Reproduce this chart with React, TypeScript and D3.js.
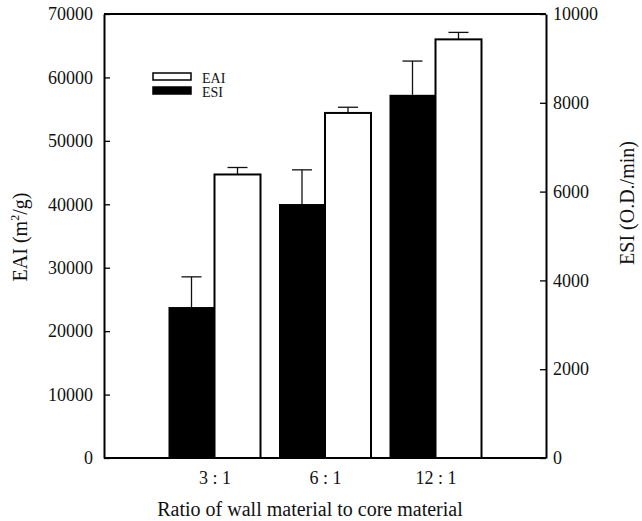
import React, { useEffect, useRef } from "react";
import * as d3 from "d3";

const categories = ["3 : 1", "6 : 1", "12 : 1"];
const eaiValues = [44700, 54400, 66000];
const eaiErrors = [1100, 900, 1100];
const esiValues = [3400, 5720, 8180];
const esiErrors = [680, 770, 760];
const leftTicks = [0, 10000, 20000, 30000, 40000, 50000, 60000, 70000];
const rightTicks = [0, 2000, 4000, 6000, 8000, 10000];

const W = 642;
const H = 521;
const FONT = "'Liberation Serif', 'Times New Roman', serif";

export default function App() {
  const ref = useRef<SVGSVGElement>(null);

  useEffect(() => {
    const svg = d3.select(ref.current);
    svg.selectAll("*").remove();

    const left = 104, right = 546, top = 14, bottom = 458;
    const x = d3.scaleLinear().domain([0, categories.length + 1]).range([left, right]);
    const yL = d3.scaleLinear().domain([0, 70000]).range([bottom, top]);
    const yR = d3.scaleLinear().domain([0, 10000]).range([bottom, top]);
    const barW = 46;
    const capW = 20;

    const g = svg.append("g");

    // ESI bars (black, right axis)
    categories.forEach((c, i) => {
      const cx = x(i + 1);
      const v = esiValues[i];
      const e = esiErrors[i];
      g.append("line")
        .attr("x1", cx - barW / 2).attr("x2", cx - barW / 2)
        .attr("y1", yR(v)).attr("y2", yR(v + e))
        .attr("stroke", "#111").attr("stroke-width", 1.3);
      g.append("line")
        .attr("x1", cx - barW / 2 - capW / 2).attr("x2", cx - barW / 2 + capW / 2)
        .attr("y1", yR(v + e)).attr("y2", yR(v + e))
        .attr("stroke", "#111").attr("stroke-width", 1.3);
      g.append("rect")
        .attr("x", cx - barW).attr("y", yR(v))
        .attr("width", barW).attr("height", yR(0) - yR(v))
        .attr("fill", "#000");
    });

    // EAI bars (white, left axis)
    categories.forEach((c, i) => {
      const cx = x(i + 1);
      const v = eaiValues[i];
      const e = eaiErrors[i];
      g.append("line")
        .attr("x1", cx + barW / 2).attr("x2", cx + barW / 2)
        .attr("y1", yL(v)).attr("y2", yL(v + e))
        .attr("stroke", "#111").attr("stroke-width", 1.3);
      g.append("line")
        .attr("x1", cx + barW / 2 - capW / 2).attr("x2", cx + barW / 2 + capW / 2)
        .attr("y1", yL(v + e)).attr("y2", yL(v + e))
        .attr("stroke", "#111").attr("stroke-width", 1.3);
      g.append("rect")
        .attr("x", cx).attr("y", yL(v))
        .attr("width", barW).attr("height", yL(0) - yL(v))
        .attr("fill", "#fff").attr("stroke", "#000").attr("stroke-width", 2);
    });

    // Frame top
    svg.append("line")
      .attr("x1", left).attr("x2", right).attr("y1", top).attr("y2", top)
      .attr("stroke", "#000").attr("stroke-width", 2);

    // Left axis
    const axL = svg.append("g").attr("transform", `translate(${left},0)`)
      .call(d3.axisLeft(yL).tickValues(leftTicks).tickFormat(d3.format("d")).tickSizeInner(-6).tickSizeOuter(0).tickPadding(11));
    // Right axis
    const axR = svg.append("g").attr("transform", `translate(${right},0)`)
      .call(d3.axisRight(yR).tickValues(rightTicks).tickFormat(d3.format("d")).tickSizeInner(-6).tickSizeOuter(0).tickPadding(7));
    // Bottom axis
    const axB = svg.append("g").attr("transform", `translate(0,${bottom})`)
      .call(d3.axisBottom(x).tickValues([1, 2, 3]).tickFormat((d: any) => categories[d - 1]).tickSize(0).tickPadding(13));

    [axL, axR, axB].forEach(a => {
      a.select(".domain").attr("stroke", "#000").attr("stroke-width", 2);
      a.selectAll(".tick line").attr("stroke", "#000").attr("stroke-width", 1.3);
      a.selectAll("text").attr("font-family", FONT).attr("font-size", 18).attr("fill", "#111");
    });
    axB.select(".domain").attr("d", `M${left},0H${right}`);

    // Axis titles
    const lt = svg.append("text")
      .attr("transform", `translate(27,237) rotate(-90)`)
      .attr("text-anchor", "middle")
      .attr("font-family", FONT).attr("font-size", 20).attr("fill", "#111");
    lt.append("tspan").text("EAI (m");
    lt.append("tspan").attr("font-size", 12).attr("dy", -8).text("2");
    lt.append("tspan").attr("dy", 8).text("/g)");

    svg.append("text")
      .attr("transform", `translate(634,203) rotate(-90)`)
      .attr("text-anchor", "middle")
      .attr("font-family", FONT).attr("font-size", 20).attr("fill", "#111")
      .text("ESI (O.D./min)");

    svg.append("text")
      .attr("x", 310).attr("y", 516)
      .attr("text-anchor", "middle")
      .attr("font-family", FONT).attr("font-size", 20).attr("fill", "#111")
      .text("Ratio of wall material to core material");

    // Legend
    const legend = [
      { label: "EAI", fill: "#fff", y: 73 },
      { label: "ESI", fill: "#000", y: 87 },
    ];
    legend.forEach(l => {
      svg.append("rect").attr("x", 153).attr("y", l.y).attr("width", 38).attr("height", 7)
        .attr("fill", l.fill).attr("stroke", "#000").attr("stroke-width", 1.5);
      svg.append("text").attr("x", 202).attr("y", l.y + 10)
        .attr("font-family", FONT).attr("font-size", 14).attr("fill", "#111").text(l.label);
    });
  }, []);

  return (
    <svg ref={ref} width={W} height={H}
      style={{ position: "absolute", left: 0, top: 0, background: "#fff" }} />
  );
}
